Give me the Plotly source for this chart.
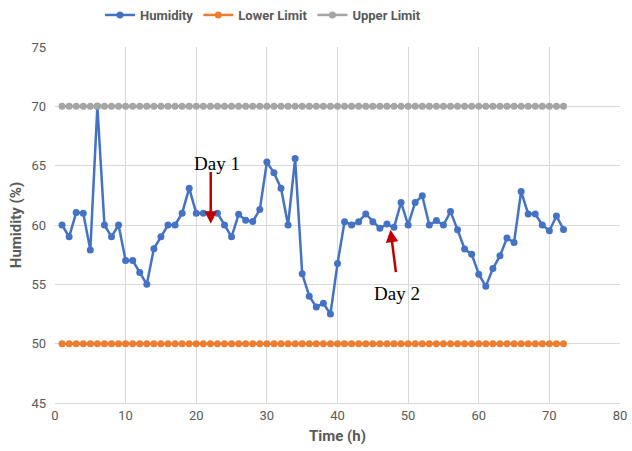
import plotly.graph_objects as go

hours = list(range(1, 73))
humidity = [60, 59, 61.05, 61, 57.9, 70, 60, 59, 60, 57, 57, 56, 55, 58, 59, 60, 60, 61, 63.1, 61,
            61, 60.9, 61, 60, 59, 60.9, 60.4, 60.3, 61.3, 65.3, 64.4, 63.1, 60, 65.6, 55.9, 54.0,
            53.1, 53.4, 52.5, 56.75, 60.28, 60, 60.28, 60.93, 60.28, 59.72, 60.08, 59.8, 61.9, 60,
            61.9, 62.46, 60, 60.37, 60, 61.13, 59.6, 57.97, 57.54, 55.85, 54.83, 56.33, 57.4, 58.9,
            58.53, 62.82, 60.93, 60.93, 60, 59.52, 60.76, 59.63]
lower_limit = [50] * 72
upper_limit = [70] * 72

x_ticks = [0, 10, 20, 30, 40, 50, 60, 70, 80]
y_ticks = [45, 50, 55, 60, 65, 70, 75]

fig = go.Figure()
for name, vals, col in [("Humidity", humidity, "#4472C4"),
                        ("Lower Limit", lower_limit, "#ED7D31"),
                        ("Upper Limit", upper_limit, "#A5A5A5")]:
    fig.add_trace(go.Scatter(x=hours, y=vals, name=name, mode="lines+markers",
                             line=dict(color=col, width=2.5),
                             marker=dict(color=col, size=7)))

fig.add_annotation(x=22.05, y=60.1, ax=22.05, ay=64.6, xref="x", yref="y", axref="x", ayref="y",
                   text="", showarrow=True, arrowhead=2, arrowsize=1, arrowwidth=2.5,
                   arrowcolor="#C00000")
fig.add_annotation(x=22.9, y=65.2, text="Day 1", showarrow=False,
                   font=dict(family="Liberation Serif", size=19, color="black"))
fig.add_annotation(x=47.5, y=59.6, ax=48.3, ay=55.9, xref="x", yref="y", axref="x", ayref="y",
                   text="", showarrow=True, arrowhead=2, arrowsize=1, arrowwidth=2.5,
                   arrowcolor="#C00000")
fig.add_annotation(x=48.4, y=54.25, text="Day 2", showarrow=False,
                   font=dict(family="Liberation Serif", size=19, color="black"))

fig.update_layout(
    width=632, height=451,
    margin=dict(l=55, r=12, t=47, b=48, autoexpand=False),
    paper_bgcolor="white", plot_bgcolor="white",
    font=dict(family="Roboto", color="#595959", size=13),
    showlegend=True,
    legend=dict(orientation="h", x=100 / 632, xanchor="left", xref="container",
                y=1.0, yanchor="top", yref="container",
                font=dict(size=13, color="#595959", weight="bold"),
                itemwidth=30, tracegroupgap=0),
    xaxis=dict(range=[0, 80], tickvals=x_ticks, showgrid=True, gridcolor="#D9D9D9",
               zeroline=False, showline=True, linecolor="#D9D9D9", ticks="",
               title=dict(text="Time (h)", font=dict(size=15, color="#595959", weight="bold"),
                          standoff=8)),
    yaxis=dict(range=[45, 75], tickvals=y_ticks, showgrid=True, gridcolor="#D9D9D9",
               zeroline=False, ticks="", ticklabelstandoff=8,
               title=dict(text="Humidity (%)", font=dict(size=15, color="#595959", weight="bold"),
                          standoff=6)),
)

fig.write_html("out.html", config={"displayModeBar": False},
               post_script="document.body.style.margin='0';document.body.style.overflow='hidden';")
